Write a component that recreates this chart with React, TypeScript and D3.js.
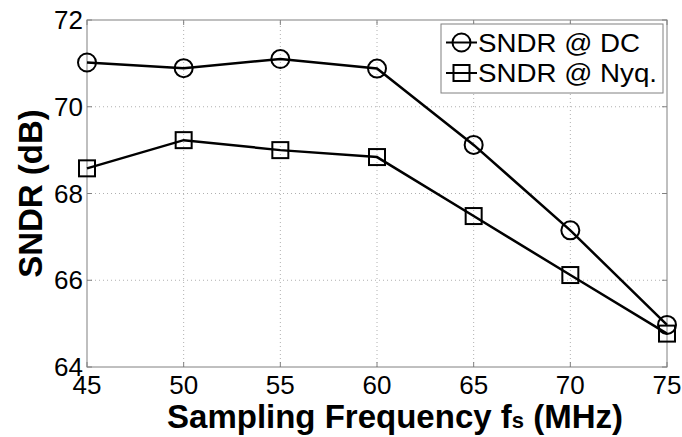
import React, { useEffect, useRef } from "react";
import * as d3 from "d3";

const freqs = [45, 50, 55, 60, 65, 70, 75];
const sndrDC = [71.02, 70.89, 71.1, 70.88, 69.12, 67.15, 64.97];
const sndrNyq = [68.58, 69.23, 69.0, 68.84, 67.48, 66.12, 64.77];
const yTicks = [64, 66, 68, 70, 72];
const legendLabels = ["SNDR @ DC", "SNDR @ Nyq."];

const App = () => {
  const ref = useRef<SVGSVGElement>(null);

  useEffect(() => {
    const svg = d3.select(ref.current);
    svg.selectAll("*").remove();
    const width = 682;
    const height = 437;
    const m = { left: 87, right: 15, top: 20, bottom: 70 };
    const font = "'Liberation Sans', Arial, sans-serif";

    const x = d3.scaleLinear().domain([45, 75]).range([m.left, width - m.right]);
    const y = d3.scaleLinear().domain([64, 72]).range([height - m.bottom, m.top]);

    svg.append("rect").attr("width", width).attr("height", height).attr("fill", "#fff");

    // grid
    const grid = svg.append("g").attr("stroke", "#b0b0b0").attr("stroke-width", 1).attr("stroke-dasharray", "1,3");
    grid
      .selectAll(".gx")
      .data(freqs.slice(1, -1))
      .enter()
      .append("line")
      .attr("x1", (d) => x(d))
      .attr("x2", (d) => x(d))
      .attr("y1", y(64))
      .attr("y2", y(72));
    grid
      .selectAll(".gy")
      .data(yTicks.slice(1, -1))
      .enter()
      .append("line")
      .attr("x1", x(45))
      .attr("x2", x(75))
      .attr("y1", (d) => y(d))
      .attr("y2", (d) => y(d));

    // frame + inward ticks
    const axis = svg.append("g").attr("stroke", "#808080").attr("stroke-width", 1).attr("fill", "none");
    axis
      .append("rect")
      .attr("x", x(45))
      .attr("y", y(72))
      .attr("width", x(75) - x(45))
      .attr("height", y(64) - y(72));
    freqs.forEach((f) => {
      axis.append("line").attr("x1", x(f)).attr("x2", x(f)).attr("y1", y(64)).attr("y2", y(64) - 5);
      axis.append("line").attr("x1", x(f)).attr("x2", x(f)).attr("y1", y(72)).attr("y2", y(72) + 5);
    });
    yTicks.forEach((t) => {
      axis.append("line").attr("x1", x(45)).attr("x2", x(45) + 5).attr("y1", y(t)).attr("y2", y(t));
      axis.append("line").attr("x1", x(75)).attr("x2", x(75) - 5).attr("y1", y(t)).attr("y2", y(t));
    });

    // tick labels
    svg
      .append("g")
      .selectAll("text")
      .data(yTicks)
      .enter()
      .append("text")
      .attr("x", x(45) - 4)
      .attr("y", (d) => y(d) + 9)
      .attr("text-anchor", "end")
      .attr("font-family", font)
      .attr("font-size", 26)
      .text((d) => d);
    svg
      .append("g")
      .selectAll("text")
      .data(freqs)
      .enter()
      .append("text")
      .attr("x", (d) => x(d))
      .attr("y", y(64) + 27)
      .attr("text-anchor", "middle")
      .attr("font-family", font)
      .attr("font-size", 26)
      .text((d) => d);

    // axis titles
    const xt = svg
      .append("text")
      .attr("x", 395)
      .attr("y", 428)
      .attr("text-anchor", "middle")
      .attr("font-family", font)
      .attr("font-weight", "bold")
      .attr("font-size", 33);
    xt.append("tspan").text("Sampling Frequency f");
    xt.append("tspan").attr("font-size", 22).text("s");
    xt.append("tspan").text(" (MHz)");

    svg
      .append("text")
      .attr("transform", `translate(42,${(y(64) + y(72)) / 2}) rotate(-90)`)
      .attr("text-anchor", "middle")
      .attr("font-family", font)
      .attr("font-weight", "bold")
      .attr("font-size", 33)
      .text("SNDR (dB)");

    const line = d3
      .line<number>()
      .x((_, i) => x(freqs[i]))
      .y((d) => y(d));

    const series = [sndrDC, sndrNyq];
    series.forEach((vals) => {
      svg
        .append("path")
        .attr("d", line(vals))
        .attr("fill", "none")
        .attr("stroke", "#000")
        .attr("stroke-width", 2.5);
    });

    const drawMarker = (g: any, kind: number, cx: number, cy: number) => {
      if (kind === 0) {
        g.append("circle")
          .attr("cx", cx)
          .attr("cy", cy)
          .attr("r", 9)
          .attr("fill", "none")
          .attr("stroke", "#000")
          .attr("stroke-width", 2);
      } else {
        g.append("rect")
          .attr("x", cx - 8)
          .attr("y", cy - 8)
          .attr("width", 16)
          .attr("height", 16)
          .attr("fill", "none")
          .attr("stroke", "#000")
          .attr("stroke-width", 2);
      }
    };

    const markers = svg.append("g");
    series.forEach((vals, k) => {
      vals.forEach((v, i) => drawMarker(markers, k, x(freqs[i]), y(v)));
    });

    // legend
    const lg = svg.append("g");
    lg.append("rect")
      .attr("x", 441)
      .attr("y", 24)
      .attr("width", 222)
      .attr("height", 69)
      .attr("fill", "#fff")
      .attr("stroke", "#808080")
      .attr("stroke-width", 1);
    const rows = [42.5, 73];
    const widths = [162, 179];
    legendLabels.forEach((label, k) => {
      lg.append("line")
        .attr("x1", 446)
        .attr("x2", 477)
        .attr("y1", rows[k])
        .attr("y2", rows[k])
        .attr("stroke", "#000")
        .attr("stroke-width", 2);
      drawMarker(lg, k, 461.5, rows[k]);
      lg.append("text")
        .attr("x", 478)
        .attr("y", rows[k] + 9)
        .attr("font-family", font)
        .attr("font-size", 25)
        .attr("textLength", widths[k])
        .attr("lengthAdjust", "spacingAndGlyphs")
        .text(label);
    });
  }, []);

  return (
    <svg
      ref={ref}
      width={682}
      height={437}
      style={{ position: "absolute", left: 0, top: 0 }}
    ></svg>
  );
};

export default App;
